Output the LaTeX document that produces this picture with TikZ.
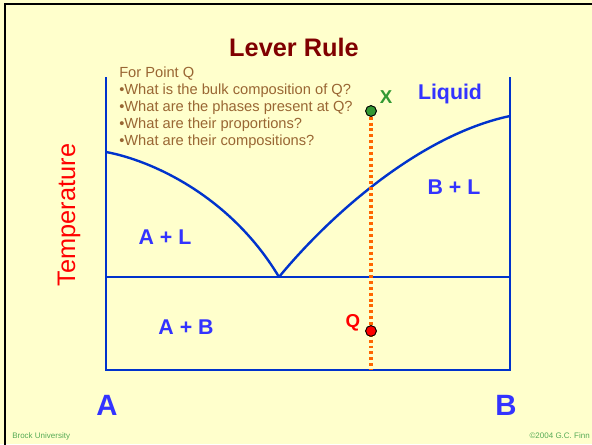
\documentclass[tikz,border=0pt]{standalone}
\usepackage{fontspec}
\setmainfont{Liberation Sans}
\usetikzlibrary{positioning}
\definecolor{paper}{HTML}{FFFFCC}
\definecolor{axisblue}{HTML}{0033CC}
\definecolor{labelblue}{HTML}{3333FF}
\definecolor{titlered}{HTML}{800000}
\definecolor{notebrown}{HTML}{996633}
\definecolor{xgreen}{HTML}{339933}
\definecolor{footgreen}{HTML}{55AA55}
\definecolor{dotorange}{HTML}{FF6600}
\tikzset{
  phase/.style={font=\fontsize{16}{18}\selectfont\bfseries,text=labelblue,inner sep=0pt},
  corner/.style={font=\fontsize{22}{24}\selectfont\bfseries,text=labelblue,inner sep=0pt},
  curve/.style={draw=axisblue,line width=1.8pt},
  marker/.style={circle,draw=black,line width=0.6pt,minimum size=8pt,inner sep=0pt},
  footer/.style={font=\fontsize{6}{7}\selectfont,text=footgreen,inner sep=0pt}
}
\begin{document}
\begin{tikzpicture}[x=0.75pt,y=-0.75pt]
\useasboundingbox (0,0) rectangle (592,444);
\fill[paper] (0,0) rectangle (592,444);
\draw[black,line width=2.2pt] (5,445) -- (5,4) -- (593,4);
% diagram frame
\coordinate (tl) at (106,77);
\coordinate (bl) at (106,370);
\coordinate (br) at (510,370);
\coordinate (tr) at (510,77);
\coordinate (eutL) at (106,277);
\coordinate (eutR) at (510,277);
\coordinate (eut) at (279,277);
\coordinate (liqA) at (106,152);
\coordinate (liqB) at (510,116);
\draw[curve] (tl) -- (bl) -- (br) -- (tr);
\draw[curve] (eutL) -- (eutR);
\draw[curve] (liqA) .. controls (150,160) and (230,195) .. (eut);
\draw[curve] (eut) .. controls (330,215) and (420,135) .. (liqB);
% composition line
\node[marker,fill=xgreen] (ptX) at (371,111) {};
\node[marker,fill=red] (ptQ) at (371,331) {};
\coordinate (foot) at (371,370);
\draw[dotorange,line width=2.4pt,dash pattern=on 2.2pt off 2.2pt] (ptX) -- (foot);
\node[marker,fill=xgreen] at (ptX) {};
\node[marker,fill=red] at (ptQ) {};
\node[font=\fontsize{14}{16}\selectfont\bfseries,text=xgreen] (labX) at (386,97) {X};
\node[font=\fontsize{14}{16}\selectfont\bfseries,text=red] (labQ) at (353,323) {Q};
% texts
\node[font=\fontsize{19}{22}\selectfont\bfseries,text=titlered] (title) at (294,47) {Lever Rule};
\node[anchor=north west,align=left,inner sep=0pt,text=notebrown,
  font=\fontsize{11}{12.75}\selectfont] (notes) at (119,67)
  {For Point Q\\
   •What is the bulk composition of Q?\\
   •What are the phases present at Q?\\
   •What are their proportions?\\
   •What are their compositions?};
\node[phase] (liquid) at (450,94) {Liquid};
\node[phase] (bl-phase) at (454,187) {B + L};
\node[phase] (al-phase) at (165,237) {A + L};
\node[phase] (ab-phase) at (186,327) {A + B};
\node[rotate=90,font=\fontsize{19}{22}\selectfont,text=red,inner sep=0pt] (temp) at (69,215) {Temperature};
\node[corner] (compA) at (107,405) {A};
\node[corner] (compB) at (506,405) {B};
\node[footer,anchor=west] (uni) at (12,436) {Brock University};
\node[footer,anchor=east] (copy) at (590,436) {©2004 G.C. Finn};
\end{tikzpicture}
\end{document}
